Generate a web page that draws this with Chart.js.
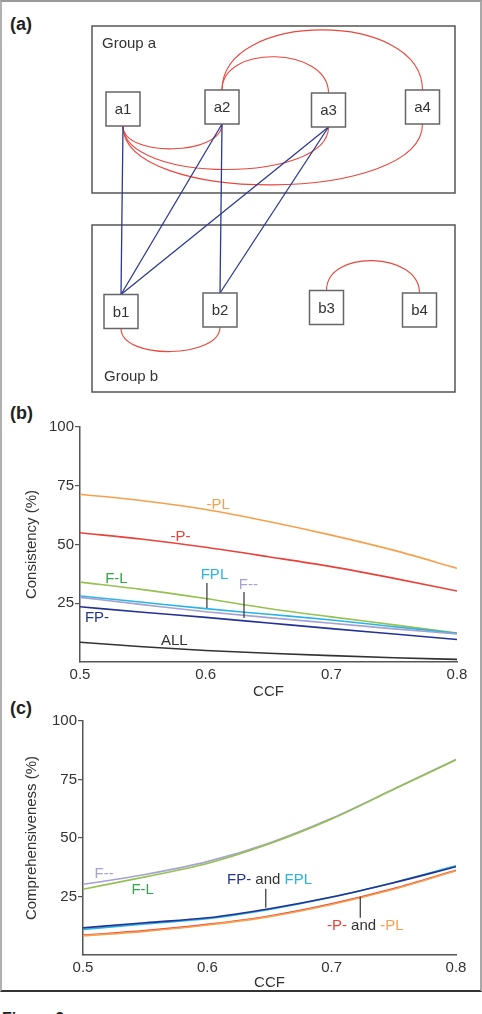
<!DOCTYPE html>
<html>
<head>
<meta charset="utf-8">
<script src="https://cdn.jsdelivr.net/npm/chart.js@4"></script>
<style>
  html, body { margin: 0; padding: 0; background: #fff; }
  body { width: 482px; height: 1014px; position: relative; overflow: hidden;
         font-family: 'Liberation Sans', Arial, sans-serif; }
  #frame { position: absolute; left: 0; top: 0; width: 478px; height: 988px;
           border-left: 2px solid #b0b0b0; border-right: 2px solid #a8a8a8;
           border-top: 2px solid #999; border-bottom: 2px solid #333; }
  canvas { position: absolute; left: 0; }
  .tag { position: absolute; left: 10px; font-weight: bold; font-size: 18px; color: #222; }
  #fig { position: absolute; left: 2px; top: 1010px; font-weight: bold; font-size: 16px; color: #222; }
</style>
</head>
<body>
<div id="frame"></div>
<div class="tag" style="top:14px">(a)</div>
<div class="tag" style="top:403px">(b)</div>
<div class="tag" style="top:698px">(c)</div>
<canvas id="netChart" width="482" height="400" style="top:0"></canvas>
<canvas id="consChart" width="482" height="305" style="top:395px"></canvas>
<canvas id="compChart" width="482" height="290" style="top:700px"></canvas>
<div id="fig">Figure 2</div>
<script>
// ---------- data ----------
// panel (a): network
const nodeNames = ['a1', 'a2', 'a3', 'a4', 'b1', 'b2', 'b3', 'b4'];
const nodeX = [123, 222, 328.5, 422.5, 121, 220, 326.5, 419.5];
const nodeY = [109, 107, 110, 107, 311.5, 310, 307.5, 310];
const redEdges = [['a2', 'a3', 'top'], ['a2', 'a4', 'top'], ['a1', 'a2', 'bottom'],
                  ['a1', 'a3', 'bottom'], ['a1', 'a4', 'bottom'], ['b1', 'b2', 'bottom'], ['b3', 'b4', 'top']];
const blueEdges = [['a1', 'b1'], ['a2', 'b1'], ['a2', 'b2'], ['a3', 'b1'], ['a3', 'b2']];
const groupNames = ['Group a', 'Group b'];

// panels (b) and (c)
const ccf = [0.5, 0.55, 0.6, 0.65, 0.7, 0.75, 0.8];
const xTicks = [0.5, 0.6, 0.7, 0.8];
const yTicks = [25, 50, 75, 100];

const consPL  = [71.4, 68.6, 64.9, 59.8, 54.0, 47.5, 39.9];
const consP   = [55.0, 52.2, 48.8, 44.8, 40.6, 35.6, 30.2];
const consFL  = [34.0, 30.8, 27.0, 22.8, 19.2, 15.8, 12.3];
const consFPL = [28.1, 25.4, 22.7, 20.3, 17.9, 15.0, 12.2];
const consF   = [27.5, 24.4, 21.4, 18.9, 16.5, 14.1, 11.9];
const consFP  = [23.5, 21.2, 19.0, 16.6, 14.2, 11.9, 9.6];
const consALL = [8.4, 6.5, 4.9, 3.7, 2.7, 1.8, 1.1];

const compF   = [30.2, 34.4, 39.9, 47.9, 58.4, 70.9, 83.6];
const compFL  = [28.1, 33.4, 39.1, 47.5, 58.1, 70.8, 83.4];
const compFP  = [11.6, 13.8, 15.9, 19.8, 24.8, 30.9, 37.7];
const compFPL = [10.9, 13.3, 15.5, 19.5, 24.7, 31.0, 38.1];
const compP   = [8.5, 10.4, 13.1, 16.7, 21.9, 28.4, 36.2];
const compPL  = [8.2, 10.1, 12.8, 16.4, 21.6, 28.1, 36.0];

// ---------- styles ----------
const FONT = "'Liberation Sans', Arial, sans-serif";
const C = {
  pl: '#f6a04d', p: '#e9423a', fl: '#95c150', flText: '#33a84b', fpl: '#27b5e6',
  f: '#a6a1d2', fp: '#243393', all: '#333333', red: '#e8473c', blue: '#2e3a8f', axis: '#555'
};
const BOX = 34;
const groupRects = [[92, 26, 455, 193], [92, 225, 455, 392]];

function nodeAt(name) {
  const i = nodeNames.indexOf(name);
  return { x: nodeX[i], y: nodeY[i] };
}

// ---------- panel (a) ----------
const netPlugin = {
  id: 'net',
  beforeDatasetsDraw(chart) {
    const { ctx, scales: { x, y } } = chart;
    ctx.save();
    ctx.strokeStyle = '#555';
    ctx.lineWidth = 1.5;
    groupRects.forEach(r => {
      const x0 = x.getPixelForValue(r[0]), y0 = y.getPixelForValue(r[1]);
      ctx.strokeRect(x0, y0, x.getPixelForValue(r[2]) - x0, y.getPixelForValue(r[3]) - y0);
    });
    ctx.strokeStyle = C.red;
    ctx.lineWidth = 1.1;
    redEdges.forEach(([a, b, side]) => {
      const p = nodeAt(a), q = nodeAt(b);
      const s = side === 'top' ? -1 : 1;
      const x1 = x.getPixelForValue(p.x), y1 = y.getPixelForValue(p.y) + s * BOX / 2;
      const x2 = x.getPixelForValue(q.x), y2 = y.getPixelForValue(q.y) + s * BOX / 2;
      const d = Math.abs(x2 - x1);
      const h = (side === 'top' ? 0.27 : 0.18) * d + 6;
      const k = h / 0.75;
      ctx.beginPath();
      ctx.moveTo(x1, y1);
      ctx.bezierCurveTo(x1, y1 + s * k, x2, y2 + s * k, x2, y2);
      ctx.stroke();
    });
    ctx.restore();
  },
  afterDatasetsDraw(chart) {
    const { ctx, scales: { x, y } } = chart;
    ctx.save();
    ctx.fillStyle = '#333';
    ctx.font = '15px ' + FONT;
    ctx.textAlign = 'center';
    ctx.textBaseline = 'middle';
    nodeNames.forEach((n, i) => {
      ctx.fillText(n, x.getPixelForValue(nodeX[i]), y.getPixelForValue(nodeY[i]) + 1);
    });
    ctx.textAlign = 'left';
    ctx.fillText(groupNames[0], x.getPixelForValue(groupRects[0][0] + 10), y.getPixelForValue(groupRects[0][1] + 18));
    ctx.fillText(groupNames[1], x.getPixelForValue(groupRects[1][0] + 12), y.getPixelForValue(groupRects[1][3] - 15));
    ctx.restore();
  }
};

const netDatasets = [{
  type: 'scatter',
  data: nodeNames.map((n, i) => ({ x: nodeX[i], y: nodeY[i] })),
  pointStyle: 'rect',
  pointRadius: BOX / 2 / Math.SQRT1_2,
  backgroundColor: '#fff',
  borderColor: '#666',
  borderWidth: 1.5,
  order: 0
}];
blueEdges.forEach(([a, b]) => {
  const p = nodeAt(a), q = nodeAt(b);
  netDatasets.push({
    type: 'line',
    data: [{ x: p.x, y: p.y + BOX / 2 }, { x: q.x, y: q.y - BOX / 2 }],
    borderColor: C.blue,
    borderWidth: 1.3,
    pointRadius: 0,
    order: 1
  });
});

new Chart(document.getElementById('netChart'), {
  type: 'scatter',
  data: { datasets: netDatasets },
  options: {
    responsive: false,
    animation: false,
    events: [],
    layout: { padding: 0, autoPadding: false },
    plugins: { legend: { display: false }, tooltip: { enabled: false } },
    scales: {
      x: { type: 'linear', display: false, min: 0, max: 482 },
      y: { type: 'linear', display: false, min: 0, max: 400, reverse: true }
    }
  },
  plugins: [netPlugin]
});

// ---------- panels (b) and (c) ----------
function labelPlugin(labels, leaders) {
  return {
    id: 'labels',
    afterDatasetsDraw(chart) {
      const { ctx, scales: { x, y } } = chart;
      ctx.save();
      ctx.strokeStyle = '#333';
      ctx.lineWidth = 1.2;
      leaders.forEach(l => {
        ctx.beginPath();
        ctx.moveTo(x.getPixelForValue(l.x), y.getPixelForValue(l.y0));
        ctx.lineTo(x.getPixelForValue(l.x), y.getPixelForValue(l.y1));
        ctx.stroke();
      });
      ctx.font = '15px ' + FONT;
      ctx.textBaseline = 'middle';
      ctx.textAlign = 'left';
      labels.forEach(l => {
        const total = l.parts.reduce((s, p) => s + ctx.measureText(p[0]).width, 0);
        let px = x.getPixelForValue(l.x) - total / 2;
        const py = y.getPixelForValue(l.y);
        l.parts.forEach(([t, col]) => {
          ctx.fillStyle = col;
          ctx.fillText(t, px, py);
          px += ctx.measureText(t).width;
        });
      });
      ctx.restore();
    }
  };
}

function line(data, color) {
  return { data, borderColor: color, borderWidth: 1.6, pointRadius: 0,
           cubicInterpolationMode: 'monotone', fill: false };
}

function lineOptions(title, axisWidth, axisHeight, pad, titleBottom) {
  return {
    responsive: false,
    animation: false,
    events: [],
    layout: { padding: pad },
    plugins: { legend: { display: false }, tooltip: { enabled: false } },
    scales: {
      x: {
        type: 'linear', min: 0.5, max: 0.8,
        afterBuildTicks: s => { s.ticks = xTicks.map(v => ({ value: v })); },
        afterFit: s => { s.height = axisHeight; },
        grid: { display: false, drawTicks: false, tickLength: 0 },
        border: { display: true, color: C.axis, width: 1.5 },
        ticks: { color: '#333', font: { family: FONT, size: 15 }, padding: 4,
                 maxRotation: 0, callback: v => v.toFixed(1) },
        title: { display: true, text: 'CCF', color: '#333',
                 font: { family: FONT, size: 15, lineHeight: 1 }, padding: { top: 0, bottom: titleBottom } }
      },
      y: {
        type: 'linear', min: 0, max: 100,
        afterBuildTicks: s => { s.ticks = yTicks.map(v => ({ value: v })); },
        afterFit: s => { s.width = axisWidth; },
        grid: { display: true, drawOnChartArea: false, drawTicks: true, tickLength: 5, color: C.axis, lineWidth: 1.2 },
        border: { display: true, color: C.axis, width: 1.5 },
        ticks: { color: '#333', font: { family: FONT, size: 15 }, padding: 1 },
        title: { display: true, text: title, color: '#333',
                 font: { family: FONT, size: 15, lineHeight: 1 }, padding: { top: 24, bottom: 0 } }
      }
    }
  };
}

const consLabels = [
  { parts: [['-PL', C.pl]], x: 0.61, y: 66.8 },
  { parts: [['-P-', C.p]], x: 0.58, y: 53.2 },
  { parts: [['F-L', C.flText]], x: 0.529, y: 35.3 },
  { parts: [['FPL', C.fpl]], x: 0.607, y: 37.0 },
  { parts: [['F--', C.f]], x: 0.634, y: 32.8 },
  { parts: [['FP-', C.fp]], x: 0.5135, y: 18.7 },
  { parts: [['ALL', C.all]], x: 0.575, y: 8.9 }
];
const consLeaders = [{ x: 0.601, y0: 33.6, y1: 23.0 }, { x: 0.6305, y0: 29.8, y1: 18.7 }];

new Chart(document.getElementById('consChart'), {
  type: 'line',
  data: {
    labels: ccf,
    datasets: [
      line(ccf.map((v, i) => ({ x: v, y: consALL[i] })), C.all),
      line(ccf.map((v, i) => ({ x: v, y: consFP[i] })), C.fp),
      line(ccf.map((v, i) => ({ x: v, y: consF[i] })), C.f),
      line(ccf.map((v, i) => ({ x: v, y: consFPL[i] })), C.fpl),
      line(ccf.map((v, i) => ({ x: v, y: consFL[i] })), C.fl),
      line(ccf.map((v, i) => ({ x: v, y: consP[i] })), C.p),
      line(ccf.map((v, i) => ({ x: v, y: consPL[i] })), C.pl)
    ]
  },
  options: lineOptions('Consistency (%)', 80, 38, { top: 32, right: 25, left: 0, bottom: 0 }, 1),
  plugins: [labelPlugin(consLabels, consLeaders)]
});

const compLabels = [
  { parts: [['F--', C.f]], x: 0.517, y: 34.8 },
  { parts: [['F-L', C.flText]], x: 0.548, y: 27.9 },
  { parts: [['FP-', C.fp], [' and ', '#333'], ['FPL', C.fpl]], x: 0.65, y: 32.2 },
  { parts: [['-P-', C.p], [' and ', '#333'], ['-PL', C.pl]], x: 0.727, y: 12.4 }
];
const compLeaders = [{ x: 0.647, y0: 28.3, y1: 20.2 }, { x: 0.723, y0: 24.9, y1: 15.9 }];

new Chart(document.getElementById('compChart'), {
  type: 'line',
  data: {
    labels: ccf,
    datasets: [
      line(ccf.map((v, i) => ({ x: v, y: compFP[i] })), C.fp),
      line(ccf.map((v, i) => ({ x: v, y: compFPL[i] })), C.fpl),
      line(ccf.map((v, i) => ({ x: v, y: compPL[i] })), C.pl),
      line(ccf.map((v, i) => ({ x: v, y: compP[i] })), C.p),
      line(ccf.map((v, i) => ({ x: v, y: compFL[i] })), C.fl),
      line(ccf.map((v, i) => ({ x: v, y: compF[i] })), C.f)
    ]
  },
  options: lineOptions('Comprehensiveness (%)', 83, 35, { top: 21, right: 26, left: 0, bottom: 0 }, 0),
  plugins: [labelPlugin(compLabels, compLeaders)]
});
</script>
</body>
</html>
